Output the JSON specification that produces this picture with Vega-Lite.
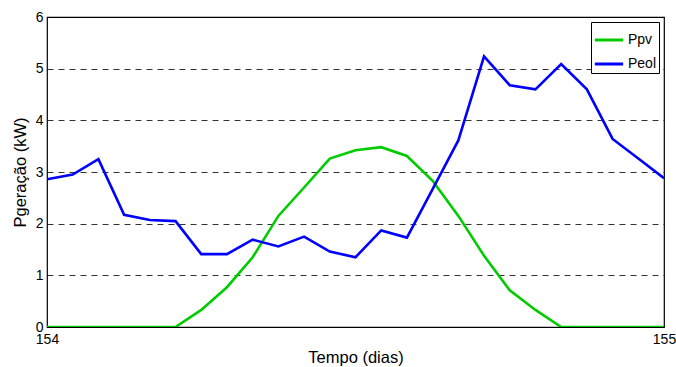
{
  "$schema": "https://vega.github.io/schema/vega-lite/v6.json",
  "autosize": "none",
  "width": 617,
  "height": 310,
  "padding": {"left": 47, "top": 17, "right": 12, "bottom": 40},
  "background": "white",
  "config": {
    "font": "Liberation Sans",
    "view": {"stroke": "black", "strokeWidth": 1.2},
    "axis": {"labelFont": "Liberation Sans", "titleFont": "Liberation Sans", "labelColor": "black", "titleColor": "black", "labelFontSize": 14, "titleFontSize": 16.5, "titleFontWeight": "normal", "domain": false, "ticks": false}
  },
  "data": {
    "values": [
      {"h": 0, "Ppv": 0, "Peol": 2.86},
      {"h": 1, "Ppv": 0, "Peol": 2.95},
      {"h": 2, "Ppv": 0, "Peol": 3.25},
      {"h": 3, "Ppv": 0, "Peol": 2.17},
      {"h": 4, "Ppv": 0, "Peol": 2.07},
      {"h": 5, "Ppv": 0, "Peol": 2.05},
      {"h": 6, "Ppv": 0.33, "Peol": 1.41},
      {"h": 7, "Ppv": 0.77, "Peol": 1.41},
      {"h": 8, "Ppv": 1.35, "Peol": 1.69},
      {"h": 9, "Ppv": 2.15, "Peol": 1.56},
      {"h": 10, "Ppv": 2.7, "Peol": 1.75},
      {"h": 11, "Ppv": 3.26, "Peol": 1.46},
      {"h": 12, "Ppv": 3.42, "Peol": 1.35},
      {"h": 13, "Ppv": 3.48, "Peol": 1.87},
      {"h": 14, "Ppv": 3.31, "Peol": 1.73},
      {"h": 15, "Ppv": 2.83, "Peol": 2.67},
      {"h": 16, "Ppv": 2.15, "Peol": 3.61},
      {"h": 17, "Ppv": 1.38, "Peol": 5.24},
      {"h": 18, "Ppv": 0.71, "Peol": 4.68},
      {"h": 19, "Ppv": 0.33, "Peol": 4.6},
      {"h": 20, "Ppv": 0, "Peol": 5.09},
      {"h": 21, "Ppv": 0, "Peol": 4.6},
      {"h": 22, "Ppv": 0, "Peol": 3.64},
      {"h": 23, "Ppv": 0, "Peol": 3.26},
      {"h": 24, "Ppv": 0, "Peol": 2.88}
    ]
  },
  "transform": [
    {"fold": ["Ppv", "Peol"], "as": ["serie", "valor"]},
    {"calculate": "154 + datum.h / 24", "as": "dia"}
  ],
  "mark": {"type": "line", "strokeWidth": 2.6, "clip": true},
  "encoding": {
    "x": {
      "field": "dia", "type": "quantitative",
      "scale": {"domain": [154, 155], "nice": false, "zero": false},
      "axis": {"values": [154, 155], "format": "d", "title": "Tempo (dias)", "grid": false, "labelPadding": 5, "titlePadding": 3, "labelFlush": false}
    },
    "y": {
      "field": "valor", "type": "quantitative",
      "scale": {"domain": [0, 6], "nice": false},
      "axis": {"values": [0, 1, 2, 3, 4, 5, 6], "title": "Pgeração (kW)", "grid": true, "gridDash": [6, 5], "gridColor": "black", "gridOpacity": 0.8, "labelPadding": 4, "titlePadding": 7}
    },
    "color": {
      "field": "serie", "type": "nominal",
      "scale": {"domain": ["Ppv", "Peol"], "range": ["#00cc00", "#0000ff"]},
      "legend": {"title": null, "orient": "top-right", "offset": 5, "symbolType": "stroke", "symbolStrokeWidth": 3, "symbolSize": 800, "labelFontSize": 14, "labelColor": "black", "labelFont": "Liberation Sans", "labelOffset": 3, "strokeColor": "black", "fillColor": "white", "padding": 2, "rowPadding": 1}
    }
  }
}
